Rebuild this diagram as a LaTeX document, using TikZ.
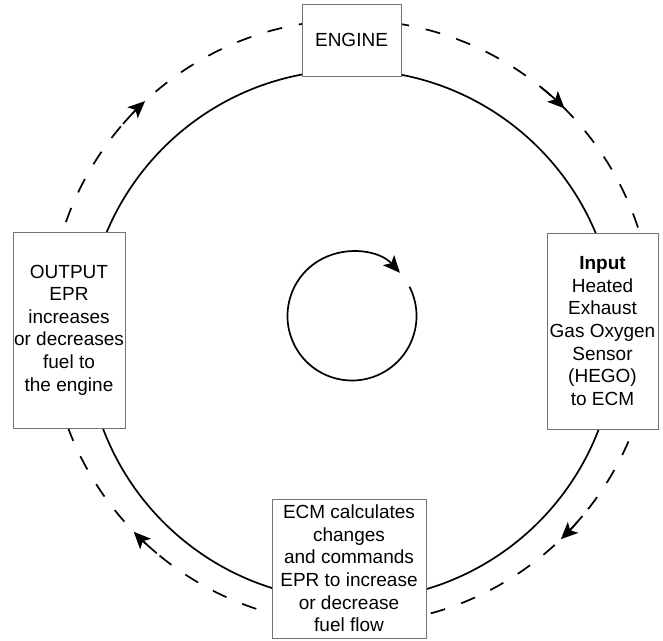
\documentclass[tikz,border=0pt]{standalone}
\usepackage{fontspec}
\setmainfont{Liberation Sans}
\usetikzlibrary{arrows.meta}
\begin{document}
\begin{tikzpicture}[x=1pt,y=1pt,
  box/.style={draw=black!55,line width=0.8pt,fill=white,inner sep=0pt,align=center,
    font=\fontsize{19}{22.6}\selectfont},
  ring/.style={line width=1.7pt},
  dashring/.style={line width=1.7pt,dash pattern=on 15pt off 17pt},
  headtip/.style={-{Stealth[length=17pt,width=15pt,inset=4pt]}},
  tip/.style={line width=1.7pt,headtip}]
\useasboundingbox (0,0) rectangle (663,640);
\coordinate (bc) at (351,305);
\coordinate (dc) at (351,318);
\coordinate (ic) at (352,324);
% big solid circle
\draw[ring] (bc) circle[radius=265];
% dashed outer circle
\draw[dashring] (dc) circle[radius=302];
% arrows on the dashed circle
\foreach \a in {133,45,-46,224}{
  \draw[tip] ([shift={(\a+6:302)}]dc) arc[start angle=\a+6, end angle=\a, radius=302];
}
% inner circle with arrow
\draw[ring,headtip] ([shift={(27:64.5)}]ic) arc[start angle=27, end angle=-318, radius=64.5];
% boxes
\node[box,minimum width=99pt,minimum height=72pt] (engine) at (351.5,600) {ENGINE};
\node[box,minimum width=112pt,minimum height=196pt] (output) at (69,310)
  {OUTPUT\\EPR\\increases\\or decreases\\fuel to\\the engine};
\node[box,minimum width=111pt,minimum height=196pt] (input) at (602.5,309)
  {\textbf{Input}\\Heated\\Exhaust\\Gas Oxygen\\Sensor\\(HEGO)\\to ECM};
\node[box,minimum width=154pt,minimum height=139pt] (ecm) at (349,71.5)
  {ECM calculates\\changes\\and commands\\EPR to increase\\or decrease\\fuel flow};
\end{tikzpicture}
\end{document}
